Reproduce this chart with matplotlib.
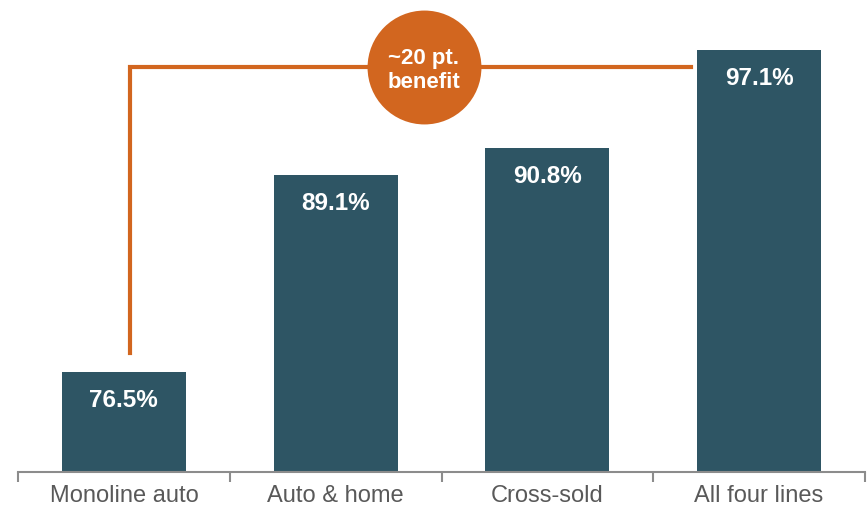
import matplotlib
matplotlib.use("Agg")
import matplotlib.pyplot as plt

categories = ["Monoline auto", "Auto & home", "Cross-sold", "All four lines"]
retention = [76.5, 89.1, 90.8, 97.1]
callout_text = "~20 pt.\nbenefit"

BAR_COLOR = "#2E5564"
ORANGE = "#D2661F"
GRAY = "#595959"

plt.rcParams["font.family"] = ["Liberation Sans", "DejaVu Sans"]

fig = plt.figure(figsize=(8.67, 5.12), dpi=100)
ax = fig.add_axes([18 / 867, 40 / 512, 847 / 867, 472 / 512])

x = range(len(categories))
bars = ax.bar(x, retention, width=0.585, bottom=0, color=BAR_COLOR, zorder=2)
ax.set_xlim(-0.5, len(categories) - 0.5)
ax.set_ylim(70.1, 100.3)

for xi, v in zip(x, retention):
    ax.text(xi, v - 1.8, f"{v:.1f}%", ha="center", va="center",
            color="white", fontsize=17.5, fontweight="bold", zorder=3)

# bracket from the smallest bar over to the largest
y_line = retention[-1] - 1.1
ax.plot([0.03, 0.03, 2.68], [retention[0] + 1.2, y_line, y_line],
        color=ORANGE, lw=3, solid_joinstyle="miter", zorder=1)
ax.scatter([1.417], [y_line], s=82 ** 2, color=ORANGE, zorder=4, linewidths=0)
ax.text(1.417, y_line - 0.2, callout_text, ha="center", va="center",
        color="white", fontsize=16, fontweight="bold", linespacing=1.22, zorder=5)

for side in ["top", "right", "left"]:
    ax.spines[side].set_visible(False)
ax.spines["bottom"].set_color("#8C8C8C")
ax.spines["bottom"].set_linewidth(1.5)
ax.set_yticks([])

# ticks between categories, labels centred under the bars
ax.set_xticks([-0.5, 0.5, 1.5, 2.5, 3.5])
ax.set_xticklabels([])
ax.set_xticks(list(x), minor=True)
ax.set_xticklabels(categories, minor=True)
ax.tick_params(axis="x", which="major", length=7, width=1.5, color="#8C8C8C")
ax.tick_params(axis="x", which="minor", length=0, pad=9,
               labelsize=17, labelcolor=GRAY)

fig.savefig("out.png", dpi=100)
